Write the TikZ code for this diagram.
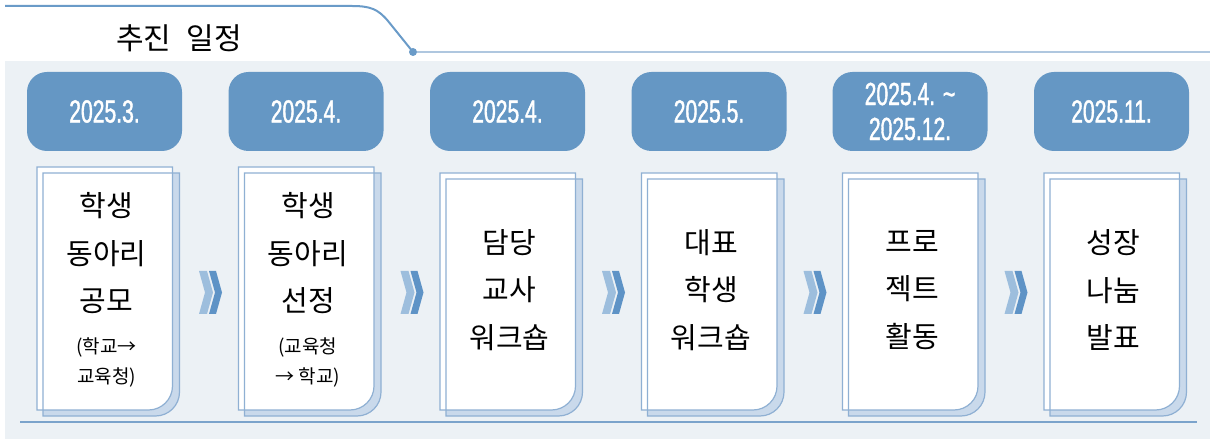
\documentclass[tikz,border=0pt]{standalone}
\usepackage{fontspec}
\usepackage{xcolor}
\usetikzlibrary{positioning}

\newfontfamily\kofont{Noto Sans CJK KR}
\newfontfamily\datefont[FakeStretch=0.66, FakeBold=1.2]{Liberation Sans}

\definecolor{panelbg}{HTML}{ECF1F5}
\definecolor{dateblue}{HTML}{6597C4}
\definecolor{headblue}{HTML}{6A9BC8}
\definecolor{thinblue}{HTML}{AFC7DF}
\definecolor{cardline}{HTML}{8FB0D3}
\definecolor{cardshade}{HTML}{C9D9EB}
\definecolor{floorblue}{HTML}{7BA3CB}
\definecolor{chevlight}{HTML}{9DBEDD}
\definecolor{chevdark}{HTML}{5E93C6}

% card with one rounded corner (bottom right): back sheet, front sheet, both outlines
\newcommand{\backsheet}[2]{(#1-61.5,#2-6) -- (#1+75,#2-6) -- (#1+75,47)
    arc[start angle=0, end angle=-90, radius=24pt] -- (#1-61.5,23) -- cycle}
\newcommand{\frontsheet}[2]{(#1-67.5,#2) -- (#1+68,#2) -- (#1+68,53)
    arc[start angle=0, end angle=-90, radius=24pt] -- (#1-67.5,29) -- cycle}
\newcommand{\card}[2]{%
    \fill[cardshade] \backsheet{#1}{#2};
    \fill[white] \frontsheet{#1}{#2};
    \draw[cardedge] \backsheet{#1}{#2};
    \draw[cardedge] \frontsheet{#1}{#2};}
% double chevron at a named coordinate
\newcommand{\chevron}[1]{%
    \fill[chevlight, shift={(#1)}] (-11.5,21.5) -- (-3.5,21.5) -- (2.5,0)
        -- (-3.5,-21.5) -- (-11.5,-21.5) -- (-5.5,0) -- cycle;
    \fill[chevdark, shift={(#1)}] (-1.5,21.5) -- (5.5,21.5) -- (11.5,0)
        -- (5.5,-21.5) -- (-1.5,-21.5) -- (4.5,0) -- cycle;}

\tikzset{
    datebox/.style={rectangle, rounded corners=20pt, fill=dateblue, text=white,
        minimum width=155pt, minimum height=79pt, inner sep=0pt, align=center,
        font=\datefont\fontsize{32}{35}\selectfont},
    task/.style={inner sep=0pt, align=center, font=\kofont\fontsize{29}{47.5}\selectfont},
    note/.style={inner sep=0pt, align=center, font=\kofont\fontsize{19}{30}\selectfont},
    cardedge/.style={draw=cardline, line width=1.2pt},
    headline/.style={draw=headblue, line width=2pt},
    floorline/.style={draw=floorblue, line width=1.6pt},
}

\begin{document}
\begin{tikzpicture}[x=1pt, y=1pt]
        \useasboundingbox (0,0) rectangle (1215,439);
        \fill[panelbg] (5,0) rectangle (1210,378);

        % title bar
        \node[font=\kofont\fontsize{30}{33}\selectfont, inner sep=0pt] (title) at (179,400.5) {추진\hspace{.5em}일정};
        \node[circle, fill=headblue, inner sep=0pt, minimum size=8pt] (dot) at (413,387) {};
        \coordinate (hl) at (5,433);
        \coordinate (hr) at (1210,387);
        \draw[headline] (hl) -- (352,433) .. controls (370,433) and (378,430) .. (388,418) -- (dot.center);
        \draw[thinblue, line width=1.5pt] (dot) -- (hr);

        % cards
        \card{104.5}{272}
        \card{306}{272}
        \card{507.5}{266}
        \card{709}{266}
        \card{910}{266}
        \card{1111.5}{266}

        % dates
        \node[datebox] (d1) at (104.5,327.5) {2025.3.};
        \node[datebox] (d2) at (306,327.5) {2025.4.};
        \node[datebox] (d3) at (507.5,327.5) {2025.4.};
        \node[datebox] (d4) at (709,327.5) {2025.5.};
        \node[datebox] (d5) at (910,327.5) {2025.4. \textasciitilde\\2025.12.};
        \node[datebox] (d6) at (1111.5,327.5) {2025.11.};

        % card texts
        \node[task] (t1) at (106.5,185.5) {학생\\동아리\\공모};
        \node[note] (n1) at (106.5,77) {(학교→\\교육청)};
        \node[task] (t2) at (308,185.5) {학생\\동아리\\선정};
        \node[note] (n2) at (308,77) {(교육청\\→ 학교)};
        \node[task] (t3) at (509.5,149) {담당\\교사\\워크숍};
        \node[task] (t4) at (711,149) {대표\\학생\\워크숍};
        \node[task] (t5) at (912,149) {프로\\젝트\\활동};
        \node[task] (t6) at (1113.5,149) {성장\\나눔\\발표};

        % chevrons between cards
        \coordinate (v1) at (210.5,146.5);
        \coordinate (v2) at (412,146.5);
        \coordinate (v3) at (613.5,146.5);
        \coordinate (v4) at (815,146.5);
        \coordinate (v5) at (1016,146.5);
        \chevron{v1}
        \chevron{v2}
        \chevron{v3}
        \chevron{v4}
        \chevron{v5}

        \coordinate (fl) at (20,17);
        \coordinate (fr) at (1197,17);
        \draw[floorline] (fl) -- (fr);
    \end{tikzpicture}
\end{document}
